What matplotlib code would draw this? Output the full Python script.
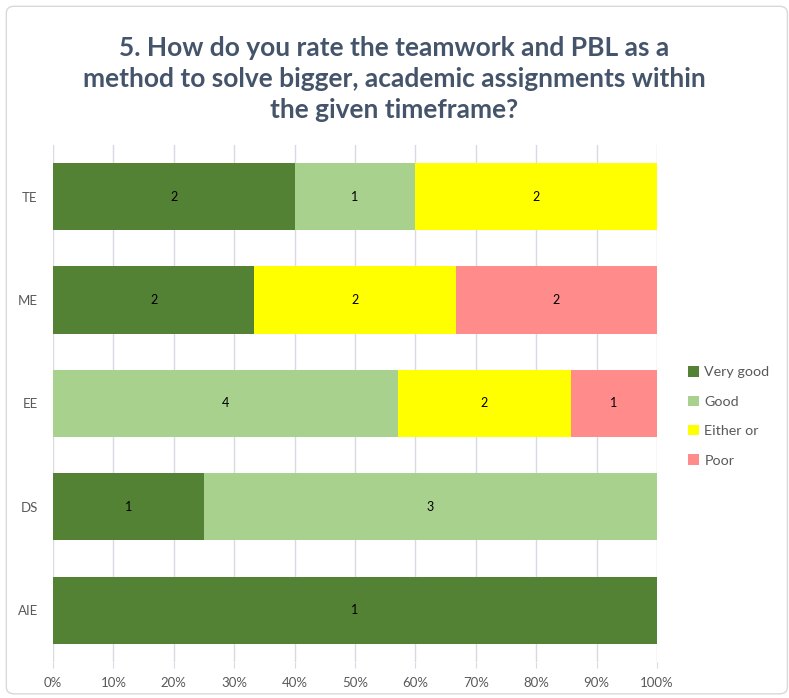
import numpy as np
import matplotlib.pyplot as plt
from matplotlib.patches import FancyBboxPatch
from matplotlib.ticker import PercentFormatter

# ---------------- DATA ---------------- #
programs = ["AIE", "DS", "EE", "ME", "TE"]
very_good = [1, 1, 0, 2, 2]
good = [0, 3, 4, 0, 1]
either_or = [0, 0, 2, 2, 2]
poor = [0, 0, 1, 2, 0]

series_names = ["Very good", "Good", "Either or", "Poor"]
colors = ["#548235", "#A9D18E", "#FFFF00", "#FF8B8B"]

title = "5. How do you rate the teamwork and PBL as a\nmethod to solve bigger, academic assignments within\nthe given timeframe?"

# ---------------- PLOT ---------------- #
plt.rcParams["font.family"] = ["Lato", "DejaVu Sans"]

counts = np.array([very_good, good, either_or, poor], dtype=float)
totals = counts.sum(axis=0)
shares = counts / totals

fig = plt.figure(figsize=(7.89, 6.98), dpi=100)
fig.patches.append(FancyBboxPatch((0.008, 0.006), 0.99, 0.985, boxstyle="round,pad=0,rounding_size=0.01",
                                  transform=fig.transFigure, facecolor="white", edgecolor="#D9D9D9",
                                  lw=1, zorder=-5))
ax = fig.add_axes([0.0672, 0.0516, 0.7655, 0.7407])
ax.set_facecolor("none")

y = np.arange(len(programs))
left = np.zeros(len(programs))
for name, col, cnt, sh in zip(series_names, colors, counts, shares):
    bars = ax.barh(y, sh, left=left, height=0.65, color=col, label=name, zorder=3)
    for b, c, s in zip(bars, cnt, sh):
        if c > 0:
            ax.text(b.get_x() + b.get_width() / 2, b.get_y() + b.get_height() / 2, f"{int(c)}",
                    ha="center", va="center", fontsize=9, color="black", zorder=4)
    left += sh

ax.set_xlim(0, 1)
ax.set_ylim(-0.5, 4.5)
ax.set_xticks(np.arange(0, 1.01, 0.1))
ax.xaxis.set_major_formatter(PercentFormatter(1.0, decimals=0))
ax.set_yticks(y)
ax.set_yticklabels(programs)
ax.grid(axis="x", color="#D9D9E3", lw=1, zorder=0)
for s in ax.spines.values():
    s.set_visible(False)
ax.tick_params(axis="x", length=4, color="#D9D9E3", colors="#595959", labelsize=9.5, pad=7)
ax.tick_params(axis="y", length=0, colors="#595959", labelsize=9.5, pad=11)

fig.text(0.5, 0.948, title, ha="center", va="top", fontsize=19, fontweight="bold",
         color="#44546A", linespacing=1.35)

ax.legend(loc="center left", bbox_to_anchor=(1.03, 0.475), frameon=False, fontsize=10.3,
          handlelength=0.75, handleheight=0.75, handletextpad=0.4, labelspacing=1.2,
          labelcolor="#595959")

plt.savefig("out.png", dpi=100)
